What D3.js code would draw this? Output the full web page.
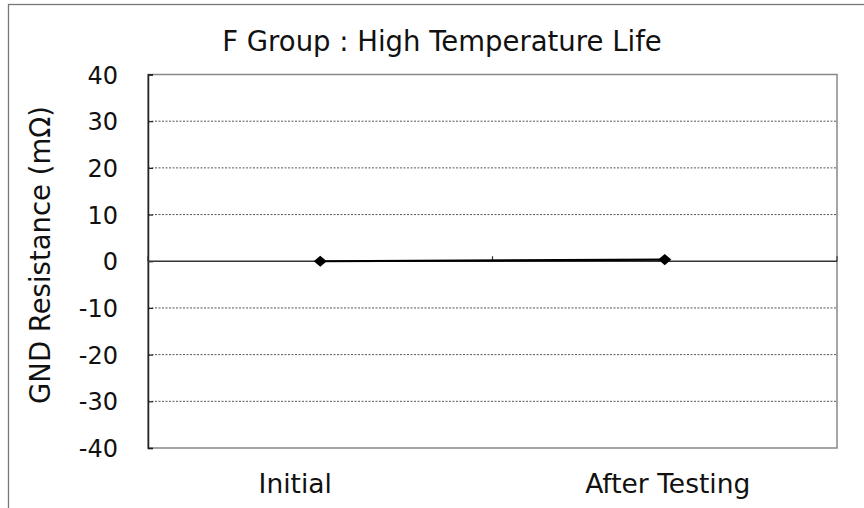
<!DOCTYPE html>
<html><head><meta charset="utf-8">
<script src="https://cdn.jsdelivr.net/npm/d3@7"></script>
<style>body{margin:0;background:#fff}svg{display:block}</style>
</head><body>
<script>
const categories = ["Initial", "After Testing"];
const values = [0, 0.35];
const yTicks = [-40, -30, -20, -10, 0, 10, 20, 30, 40];
const title = "F Group : High Temperature Life";
const yTitle = "GND Resistance (mΩ)";

const W = 864, H = 508;
const m = {left: 148, right: 27, top: 74.5, bottom: 60};
const font = "'DejaVu Sans', Verdana, sans-serif";

const svg = d3.select("body").append("svg").attr("width", W).attr("height", H);
svg.append("rect").attr("x", 8.5).attr("y", 4.5).attr("width", W).attr("height", H)
  .attr("fill", "none").attr("stroke", "#777").attr("stroke-width", 1.3);

const x = d3.scaleBand().domain(categories).range([m.left, W - m.right]);
const y = d3.scaleLinear().domain([-40, 40]).range([H - m.bottom, m.top]);

// gridlines
svg.append("g").selectAll("line").data(yTicks.filter(t => t !== 0 && Math.abs(t) !== 40)).join("line")
  .attr("x1", m.left).attr("x2", W - m.right).attr("y1", d => y(d)).attr("y2", d => y(d))
  .attr("stroke", "#555").attr("stroke-width", 1).attr("stroke-dasharray", "2,1.5");

// plot border
svg.append("rect").attr("x", m.left).attr("y", m.top).attr("width", W - m.right - m.left)
  .attr("height", H - m.bottom - m.top).attr("fill", "none").attr("stroke", "#888").attr("stroke-width", 1.5);

// y axis
const ya = svg.append("g").attr("transform", `translate(${m.left},0)`)
  .call(d3.axisLeft(y).tickValues(yTicks).tickSize(-5).tickPadding(30).tickFormat(d => String(d)));
ya.select(".domain").attr("stroke", "#222").attr("stroke-width", 1.5);
ya.selectAll(".tick line").attr("stroke", "#222").attr("stroke-width", 1.2);
ya.selectAll("text").attr("font-family", font).attr("font-size", 24).attr("fill", "#111").attr("dy", "0.36em");

// x axis at zero
const xa = svg.append("g").attr("transform", `translate(0,${y(0)})`);
xa.append("line").attr("x1", m.left).attr("x2", W - m.right).attr("stroke", "#333").attr("stroke-width", 1.3);
const bounds = [x.range()[0], x(categories[1]), x.range()[1]];
xa.selectAll(".xt").data(bounds).join("line").attr("class", "xt")
  .attr("x1", d => d).attr("x2", d => d).attr("y1", 0).attr("y2", -5)
  .attr("stroke", "#333").attr("stroke-width", 1.2);

// x labels
const labelOffset = [-25, 3];
svg.append("g").selectAll("text").data(categories).join("text")
  .attr("x", (d, i) => x(d) + x.bandwidth() / 2 + labelOffset[i]).attr("y", 493)
  .attr("text-anchor", "middle").attr("font-family", font).attr("font-size", 26.5).attr("fill", "#111")
  .text(d => d);

// line
const line = d3.line().x((d, i) => x(categories[i]) + x.bandwidth() / 2).y(d => y(d));
svg.append("path").datum(values).attr("d", line).attr("fill", "none").attr("stroke", "#000").attr("stroke-width", 2.2);
svg.append("g").selectAll("path").data(values).join("path")
  .attr("transform", (d, i) => `translate(${x(categories[i]) + x.bandwidth() / 2},${y(d)}) scale(1.1,0.95) rotate(45)`)
  .attr("d", d3.symbol().type(d3.symbolSquare).size(70)).attr("fill", "#000");

// title
svg.append("text").attr("x", 442).attr("y", 51).attr("text-anchor", "middle")
  .attr("font-family", font).attr("font-size", 27.5).attr("fill", "#111").text(title);

// y title
svg.append("text").attr("transform", `translate(50,255) rotate(-90)`)
  .attr("text-anchor", "middle").attr("font-family", font).attr("font-size", 27.5).attr("fill", "#111").text(yTitle);
</script>
</body></html>
